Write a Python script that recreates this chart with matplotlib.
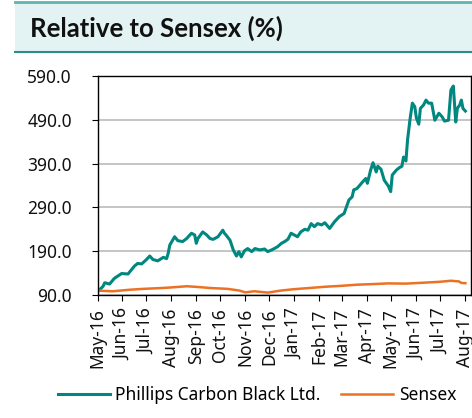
import matplotlib
matplotlib.use('Agg')
import matplotlib.pyplot as plt
import matplotlib.dates as mdates
from matplotlib.patches import Rectangle
import pandas as pd

plt.rcParams['font.family'] = ['Noto Sans', 'DejaVu Sans']

# Phillips Carbon Black Ltd. relative series (rebased to 100)
pcb_dates = [
    '2016-05-01', '2016-05-08', '2016-05-10', '2016-05-16', '2016-05-22', '2016-05-31',
    '2016-06-08', '2016-06-16', '2016-06-20', '2016-06-25', '2016-07-01', '2016-07-05',
    '2016-07-09', '2016-07-15', '2016-07-22', '2016-07-26', '2016-07-28', '2016-07-30',
    '2016-08-05', '2016-08-09', '2016-08-15', '2016-08-20', '2016-08-26', '2016-08-30',
    '2016-09-01', '2016-09-03', '2016-09-09', '2016-09-14', '2016-09-18', '2016-09-22',
    '2016-09-28', '2016-10-04', '2016-10-06', '2016-10-08', '2016-10-13', '2016-10-17',
    '2016-10-21', '2016-10-24', '2016-10-27', '2016-10-31', '2016-11-04', '2016-11-09',
    '2016-11-13', '2016-11-19', '2016-11-25', '2016-11-29', '2016-12-05', '2016-12-11',
    '2016-12-16', '2016-12-20', '2016-12-24', '2016-12-28', '2017-01-01', '2017-01-05',
    '2017-01-09', '2017-01-14', '2017-01-18', '2017-01-22', '2017-01-26', '2017-01-30',
    '2017-02-04', '2017-02-08', '2017-02-14', '2017-02-20', '2017-02-26', '2017-03-04',
    '2017-03-10', '2017-03-14', '2017-03-16', '2017-03-20', '2017-03-27', '2017-03-31',
    '2017-04-02', '2017-04-06', '2017-04-09', '2017-04-13', '2017-04-15', '2017-04-19',
    '2017-04-23', '2017-04-28', '2017-05-01', '2017-05-03', '2017-05-08', '2017-05-12',
    '2017-05-15', '2017-05-17', '2017-05-20', '2017-05-22', '2017-05-25', '2017-05-28',
    '2017-05-31', '2017-06-02', '2017-06-05', '2017-06-07', '2017-06-11', '2017-06-14',
    '2017-06-17', '2017-06-21', '2017-06-25', '2017-06-30', '2017-07-04', '2017-07-07',
    '2017-07-12', '2017-07-15', '2017-07-18', '2017-07-21', '2017-07-23', '2017-07-26',
    '2017-07-28', '2017-07-30', '2017-08-02',
]
pcb_values = [
    97, 110, 118, 115, 128, 139,
    138, 156, 162, 161, 171, 179,
    171, 168, 176, 173, 185, 204,
    223, 214, 212, 219, 231, 227,
    208, 219, 234, 227, 219, 217,
    223, 238, 231, 227, 215, 193,
    179, 189, 177, 191, 196, 189,
    196, 193, 195, 189, 194, 200,
    208, 212, 217, 231, 227, 223,
    234, 240, 238, 253, 246, 253,
    250, 255, 242, 257, 269, 276,
    307, 314, 330, 333, 348, 356,
    345, 375, 392, 371, 384, 377,
    352, 339, 326, 364, 375, 381,
    384, 405, 396, 444, 490, 528,
    520, 494, 480, 516, 524, 535,
    528, 528, 489, 505, 497, 487,
    489, 558, 567, 485, 516, 524,
    535, 516, 510,
]

# Sensex (rebased to 100)
sensex_dates = [
    '2016-05-01', '2016-05-20', '2016-06-10', '2016-06-27', '2016-07-15', '2016-07-30',
    '2016-08-20', '2016-09-05', '2016-09-18', '2016-10-10', '2016-10-25', '2016-11-01',
    '2016-11-12', '2016-11-29', '2016-12-15', '2016-12-30', '2017-01-20', '2017-02-10',
    '2017-03-01', '2017-03-20', '2017-04-10', '2017-04-28', '2017-05-20', '2017-06-10',
    '2017-06-30', '2017-07-15', '2017-07-25', '2017-07-28', '2017-08-02',
]
sensex_values = [
    100, 98.5, 102, 104, 105.5, 107,
    110, 108, 106, 104, 100, 96,
    98.5, 95.5, 100, 103, 106, 109,
    111, 113.5, 115, 116.5, 116, 118,
    120, 122.5, 121, 117.5, 117,
]

y_ticks = [90, 190, 290, 390, 490, 590]

teal = '#00877f'
orange = '#ec7125'

fig = plt.figure(figsize=(4.72, 4.18), dpi=100)

# title banner
fig.patches.append(Rectangle((15 / 472, 1 - 52 / 418), 1, 50 / 418, transform=fig.transFigure,
                             facecolor='#e3f2f3', edgecolor='none', zorder=0))
fig.add_artist(plt.Line2D([15 / 472, 1], [1 - 2 / 418] * 2, color='#5fb3b3', lw=2))
fig.add_artist(plt.Line2D([15 / 472, 1], [1 - 52 / 418] * 2, color='#2a8f8a', lw=1.5))
fig.text(30 / 472, 1 - 28 / 418, 'Relative to Sensex (%)', fontsize=18.5, fontweight='bold',
         family=['Lato', 'DejaVu Sans'], ha='left', va='center', color='#111111')

ax = fig.add_axes([97.5 / 472, 1 - 295 / 418, (471 - 97.5) / 472, (295 - 76) / 418])

ax.plot(pd.to_datetime(pcb_dates), pcb_values, color=teal, lw=2.2,
        label='Phillips Carbon Black Ltd.')
ax.plot(pd.to_datetime(sensex_dates), sensex_values, color=orange, lw=1.8, label='Sensex')

ax.set_ylim(90, 590)
ax.set_yticks(y_ticks)
ax.set_yticklabels([f'{v:.1f}' for v in y_ticks])
ax.set_xlim(pd.Timestamp('2016-05-01'), pd.Timestamp('2017-08-09'))
ax.xaxis.set_major_locator(mdates.MonthLocator())
ax.xaxis.set_major_formatter(mdates.DateFormatter('%b-%y'))
plt.setp(ax.get_xticklabels(), rotation=90)

ax.grid(axis='y', color='#c0c0c0', lw=1.3)
ax.set_axisbelow(True)
ax.tick_params(labelsize=12.5, length=4.5, direction='out', color='black', colors='#111111')
ax.tick_params(axis='y', pad=14)
ax.tick_params(axis='x', pad=5)
for s in ax.spines.values():
    s.set_color('black')
    s.set_linewidth(1)

fig.legend(loc='center', bbox_to_anchor=(257 / 472, 1 - 395 / 418), ncol=2, frameon=False,
           fontsize=12.5, handlelength=3.0, columnspacing=1.2, handletextpad=0.3,
           borderaxespad=0)

fig.savefig('out.png', dpi=100)
